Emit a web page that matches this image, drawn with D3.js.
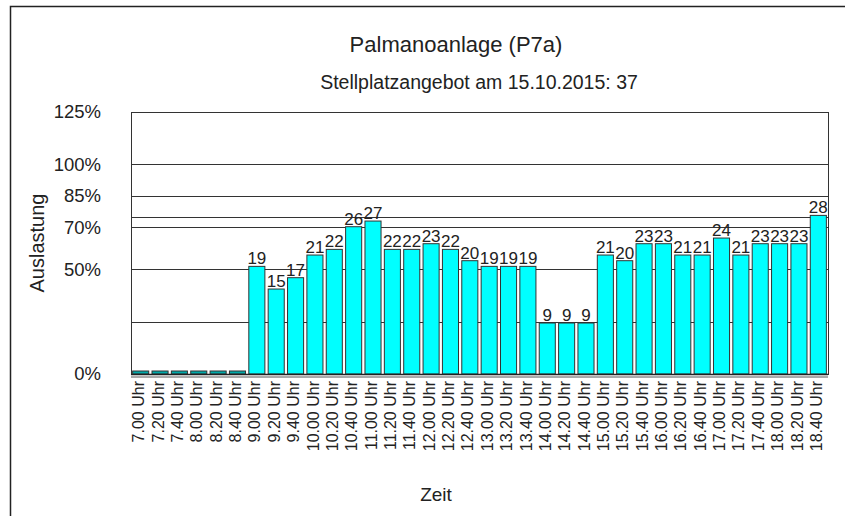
<!DOCTYPE html>
<html>
<head>
<meta charset="utf-8">
<script src="https://cdn.jsdelivr.net/npm/d3@7/dist/d3.min.js"></script>
<style>
  html, body { margin: 0; padding: 0; background: #fff; }
  svg { display: block; font-family: "Liberation Sans", Arial, sans-serif; }
  text { fill: #222; }
</style>
</head>
<body>
<svg id="chart" width="845" height="516"></svg>
<script>
// Occupancy of the Palmanoanlage car park (P7a), 20-minute counts
const times = ["7.00 Uhr","7.20 Uhr","7.40 Uhr","8.00 Uhr","8.20 Uhr","8.40 Uhr",
  "9.00 Uhr","9.20 Uhr","9.40 Uhr","10.00 Uhr","10.20 Uhr","10.40 Uhr",
  "11.00 Uhr","11.20 Uhr","11.40 Uhr","12.00 Uhr","12.20 Uhr","12.40 Uhr",
  "13.00 Uhr","13.20 Uhr","13.40 Uhr","14.00 Uhr","14.20 Uhr","14.40 Uhr",
  "15.00 Uhr","15.20 Uhr","15.40 Uhr","16.00 Uhr","16.20 Uhr","16.40 Uhr",
  "17.00 Uhr","17.20 Uhr","17.40 Uhr","18.00 Uhr","18.20 Uhr","18.40 Uhr"];
const occupied = [0,0,0,0,0,0,
  19,15,17,21,22,26,
  27,22,22,23,22,20,
  19,19,19,9,9,9,
  21,20,23,23,21,21,
  24,21,23,23,23,28];
const capacity = 37;
const yTickLabels = [0, 50, 70, 85, 100, 125];
const gridLines = [25, 50, 70, 75, 85, 100];

const rows = times.map((t, i) => ({ t, v: occupied[i], p: occupied[i] / capacity * 100 }));

const svg = d3.select("#chart");
const plot = { left: 131, right: 828, top: 112, bottom: 374 };

// outer frame (open to the right and bottom)
svg.append("path")
  .attr("d", "M10.5,516 V6.5 H845")
  .attr("fill", "none").attr("stroke", "#222").attr("stroke-width", 1.5);

const x = d3.scaleBand().domain(times)
  .range([plot.left, plot.right]).paddingInner(0.17).paddingOuter(0.085);
const y = d3.scaleLinear().domain([0, 125]).range([plot.bottom, plot.top]);

// titles
svg.append("text").attr("x", 456).attr("y", 52).attr("text-anchor", "middle")
  .attr("font-size", 22).text("Palmanoanlage (P7a)");
svg.append("text").attr("x", 479).attr("y", 89).attr("text-anchor", "middle")
  .attr("font-size", 19.5).text("Stellplatzangebot am 15.10.2015: 37");

// gridlines
svg.append("g").selectAll("line").data(gridLines).join("line")
  .attr("x1", plot.left).attr("x2", plot.right)
  .attr("y1", d => Math.round(y(d)) + 0.5).attr("y2", d => Math.round(y(d)) + 0.5)
  .attr("stroke", "#333").attr("stroke-width", 1);

// plot frame
svg.append("rect").attr("x", plot.left + 0.5).attr("y", plot.top + 0.5)
  .attr("width", plot.right - plot.left).attr("height", plot.bottom - plot.top)
  .attr("fill", "none").attr("stroke", "#333").attr("stroke-width", 1);
svg.append("line").attr("x1", plot.left).attr("x2", plot.right)
  .attr("y1", plot.bottom + 3).attr("y2", plot.bottom + 3)
  .attr("stroke", "#aaa").attr("stroke-width", 2);

// y axis tick labels
const yAxis = d3.axisLeft(y).tickValues(yTickLabels).tickSize(0).tickPadding(0)
  .tickFormat(d => d + "%");
svg.append("g").attr("transform", "translate(101,0)").call(yAxis)
  .call(g => g.select(".domain").remove())
  .selectAll("text").attr("font-size", 18.5).attr("fill", "#222")
  .attr("font-family", "Liberation Sans, Arial, sans-serif");

// bars
svg.append("g").selectAll("rect").data(rows).join("rect")
  .attr("x", d => x(d.t))
  .attr("width", x.bandwidth())
  .attr("y", d => d.v === 0 ? plot.bottom - 3 : y(d.p))
  .attr("height", d => d.v === 0 ? 3 : plot.bottom - y(d.p))
  .attr("fill", d => d.v === 0 ? "#0aa" : "#00ffff")
  .attr("stroke", "#333").attr("stroke-width", 1);

// value labels above bars
svg.append("g").selectAll("text").data(rows.filter(d => d.v > 0)).join("text")
  .attr("x", d => x(d.t) + x.bandwidth() / 2)
  .attr("y", d => y(d.p) - 2)
  .attr("text-anchor", "middle").attr("font-size", 17)
  .text(d => d.v);

// bottom axis line
svg.append("line").attr("x1", plot.left).attr("x2", plot.right)
  .attr("y1", plot.bottom + 0.5).attr("y2", plot.bottom + 0.5)
  .attr("stroke", "#222").attr("stroke-width", 1.5);

// x axis labels
const xAxis = d3.axisBottom(x).tickSize(0).tickPadding(0);
svg.append("g").attr("transform", `translate(0,${plot.bottom})`).call(xAxis)
  .call(g => g.select(".domain").remove())
  .selectAll("text")
  .attr("font-size", 16).attr("fill", "#222")
  .attr("font-family", "Liberation Sans, Arial, sans-serif")
  .attr("text-anchor", "end")
  .attr("transform", "rotate(-90)")
  .attr("x", -7).attr("y", -2).attr("dy", "0.35em");

// axis titles
svg.append("text").attr("x", 436).attr("y", 501).attr("text-anchor", "middle")
  .attr("font-size", 19).text("Zeit");
svg.append("text").attr("transform", "translate(44,243) rotate(-90)")
  .attr("text-anchor", "middle").attr("font-size", 20).text("Auslastung");
</script>
</body>
</html>
